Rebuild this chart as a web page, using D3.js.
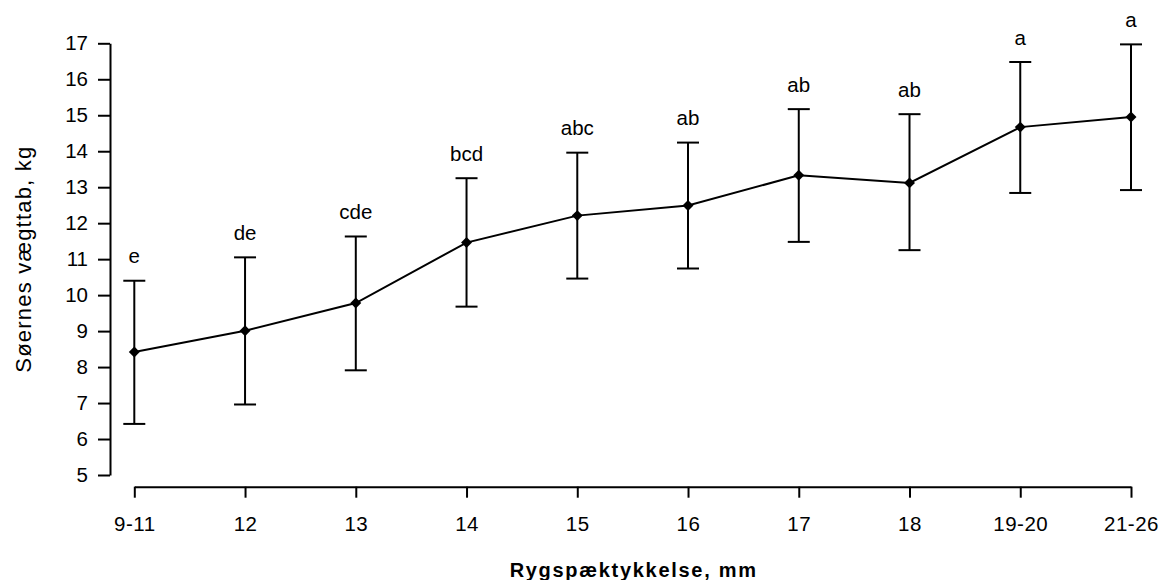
<!DOCTYPE html>
<html>
<head>
<meta charset="utf-8">
<script src="https://cdn.jsdelivr.net/npm/d3@7/dist/d3.min.js"></script>
<style>
  html, body { margin: 0; padding: 0; background: #fff; }
  svg text { font-family: "Liberation Sans", Arial, sans-serif; fill: #000; }
</style>
</head>
<body>
<svg id="chart" width="1161" height="580"></svg>
<script>
const categories = ["9-11", "12", "13", "14", "15", "16", "17", "18", "19-20", "21-26"];
const means  = [8.42, 9.01, 9.78, 11.46, 12.21, 12.49, 13.33, 13.12, 14.67, 14.95];
const upper  = [10.40, 11.05, 11.63, 13.25, 13.96, 14.24, 15.17, 15.03, 16.48, 16.97];
const lower  = [6.42, 6.96, 7.91, 9.68, 10.46, 10.74, 11.48, 11.25, 12.84, 12.92];
const letters = ["e", "de", "cde", "bcd", "abc", "ab", "ab", "ab", "a", "a"];
const yTicks = [5, 6, 7, 8, 9, 10, 11, 12, 13, 14, 15, 16, 17];
const xTitle = "Rygspæktykkelse, mm";
const yTitle = "Søernes vægttab, kg";

const svg = d3.select("#chart");
const ink = "#000";
const font = "'Liberation Sans', Arial, sans-serif";

const x = d3.scalePoint().domain(categories).range([134.3, 1131]);
const y = d3.scaleLinear().domain([5, 17]).range([475, 43.3]);

const data = categories.map((c, i) => ({ c, m: means[i], hi: upper[i], lo: lower[i], l: letters[i] }));

// Y axis
const yAxis = svg.append("g")
  .attr("transform", "translate(110,0)")
  .call(d3.axisLeft(y).tickValues(yTicks).tickSize(12).tickPadding(10).tickSizeOuter(0));
yAxis.select(".domain").attr("stroke", ink).attr("stroke-width", 2);
yAxis.selectAll(".tick line").attr("stroke", ink).attr("stroke-width", 2);
yAxis.selectAll(".tick text").attr("font-size", 20.5).attr("fill", ink)
  .attr("font-family", font);

// X axis
const xAxis = svg.append("g")
  .attr("transform", "translate(0,486.7)")
  .call(d3.axisBottom(x).tickSize(11).tickPadding(18.5).tickSizeOuter(0));
xAxis.select(".domain").attr("stroke", ink).attr("stroke-width", 2);
xAxis.selectAll(".tick line").attr("stroke", ink).attr("stroke-width", 2);
xAxis.selectAll(".tick text").attr("font-size", 20.5).attr("fill", ink)
  .attr("font-family", font).attr("letter-spacing", 0.5);

// Error bars
const eb = svg.append("g").attr("stroke", ink).attr("stroke-width", 2).attr("fill", "none");
eb.selectAll("line.v").data(data).join("line").attr("class", "v")
  .attr("x1", d => x(d.c)).attr("x2", d => x(d.c))
  .attr("y1", d => y(d.lo)).attr("y2", d => y(d.hi));
eb.selectAll("line.t").data(data).join("line").attr("class", "t")
  .attr("x1", d => x(d.c) - 11).attr("x2", d => x(d.c) + 11)
  .attr("y1", d => y(d.hi)).attr("y2", d => y(d.hi));
eb.selectAll("line.b").data(data).join("line").attr("class", "b")
  .attr("x1", d => x(d.c) - 11).attr("x2", d => x(d.c) + 11)
  .attr("y1", d => y(d.lo)).attr("y2", d => y(d.lo));

// Mean line
svg.append("path").datum(data)
  .attr("fill", "none").attr("stroke", ink).attr("stroke-width", 2)
  .attr("d", d3.line().x(d => x(d.c)).y(d => y(d.m)));

// Markers
svg.append("g").selectAll("path").data(data).join("path")
  .attr("transform", d => `translate(${x(d.c)},${y(d.m)}) rotate(45)`)
  .attr("d", d3.symbol().type(d3.symbolSquare).size(60))
  .attr("fill", ink);

// Letters
svg.append("g").selectAll("text").data(data).join("text")
  .attr("x", d => x(d.c)).attr("y", d => y(d.hi) - 17.5)
  .attr("text-anchor", "middle").attr("font-size", 20.5)
  .text(d => d.l);

// Titles
svg.append("text")
  .attr("x", (x.range()[0] + x.range()[1]) / 2 + 1).attr("y", 576.5)
  .attr("text-anchor", "middle").attr("font-size", 20).attr("font-weight", "bold")
  .attr("letter-spacing", 1.7)
  .text(xTitle);
svg.append("text")
  .attr("transform", `translate(31,${(y(5) + y(17)) / 2}) rotate(-90)`)
  .attr("text-anchor", "middle").attr("font-size", 22)
  .attr("letter-spacing", 1.2)
  .text(yTitle);
</script>
</body>
</html>
